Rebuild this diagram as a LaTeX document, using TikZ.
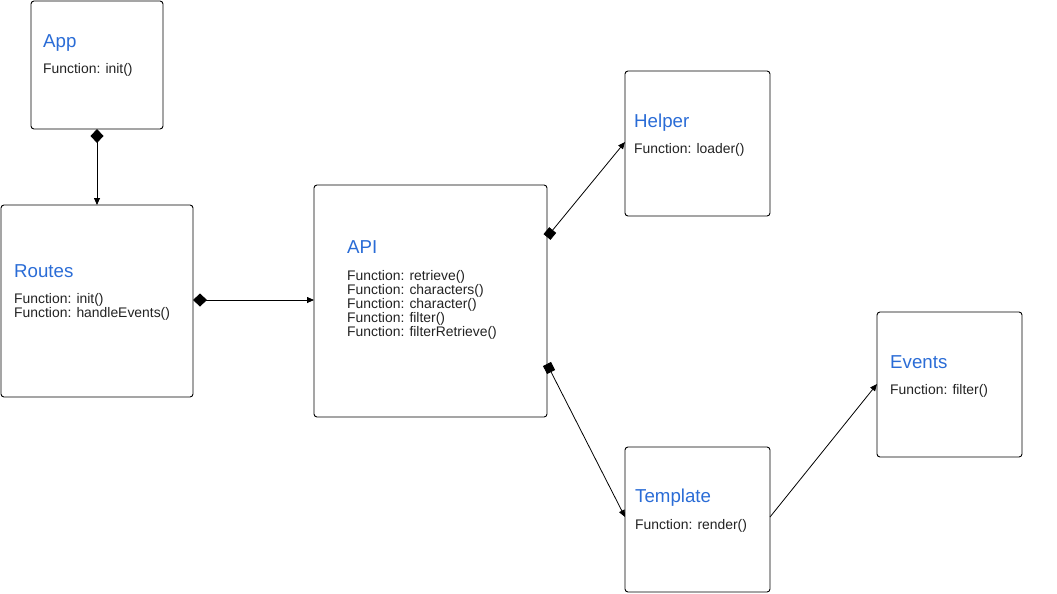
\documentclass[tikz,border=0pt]{standalone}
\usepackage{fontspec}
\setmainfont{Liberation Sans}
\usetikzlibrary{arrows.meta}
\definecolor{ttl}{RGB}{42,108,214}
\definecolor{txt}{RGB}{34,34,34}
\begin{document}
\begin{tikzpicture}[x=1pt,y=-1pt,
  cls/.style={draw=black,line width=0.9pt,rounded corners=3pt},
  ttltext/.style={anchor=base west,inner sep=0pt,text=ttl,font=\fontsize{18.7}{22}\selectfont},
  bodytext/.style={anchor=base west,inner sep=0pt,text=txt,align=left,font=\fontsize{13.9}{13.9}\selectfont},
  conn/.style={draw=black,line width=0.8pt},
  tip/.style={-{Triangle[length=7pt,width=6pt]}},
  dia/.style={{Diamond[length=14pt,width=13pt]}-{Triangle[length=7pt,width=6pt]}},
  sq/.style={{Square[length=9pt,width=9pt]}-{Triangle[length=7pt,width=6pt]}}
]
\useasboundingbox (0,0) rectangle (1057,594);
% boxes
\draw[cls] (31,1) rectangle (163,129);
\draw[cls] (1,205) rectangle (193,397);
\draw[cls] (314,185) rectangle (547,417);
\draw[cls] (625,71) rectangle (770,216);
\draw[cls] (877,312) rectangle (1022,457);
\draw[cls] (625,447) rectangle (770,592);
% anchor coordinates
\coordinate (appB) at (97,129);
\coordinate (routesT) at (97,205);
\coordinate (routesR) at (193,300);
\coordinate (apiL) at (314,300);
\coordinate (apiR1) at (547,237);
\coordinate (apiR2) at (547,364);
\coordinate (helperL) at (625,142);
\coordinate (templateL) at (625,517);
\coordinate (templateR) at (770,517);
\coordinate (eventsL) at (877,384);
% texts
\node[ttltext] (appT) at (43,48) {App};
\node[bodytext] (appF) at (43,74) {Function: init()};
\node[ttltext] (routesTt) at (14,277) {Routes};
\node[bodytext] (routesF) at (14,317) {Function: init()\\Function: handleEvents()};
\node[ttltext] (apiT) at (347,253) {API};
\node[bodytext] (apiF) at (347,336) {Function: retrieve()\\Function: characters()\\Function: character()\\Function: filter()\\Function: filterRetrieve()};
\node[ttltext] (helperT) at (634,127) {Helper};
\node[bodytext] (helperF) at (634,153) {Function: loader()};
\node[ttltext] (eventsT) at (890,368) {Events};
\node[bodytext] (eventsF) at (890,394) {Function: filter()};
\node[ttltext] (templateT) at (635,502) {Template};
\node[bodytext] (templateF) at (635,529) {Function: render()};
% connectors
\draw[conn,dia] (appB) -- (routesT);
\draw[conn,dia] (routesR) -- (apiL);
\draw[conn,sq] (apiR1) -- (helperL);
\draw[conn,sq] (apiR2) -- (templateL);
\draw[conn,tip] (templateR) -- (eventsL);
\end{tikzpicture}
\end{document}
